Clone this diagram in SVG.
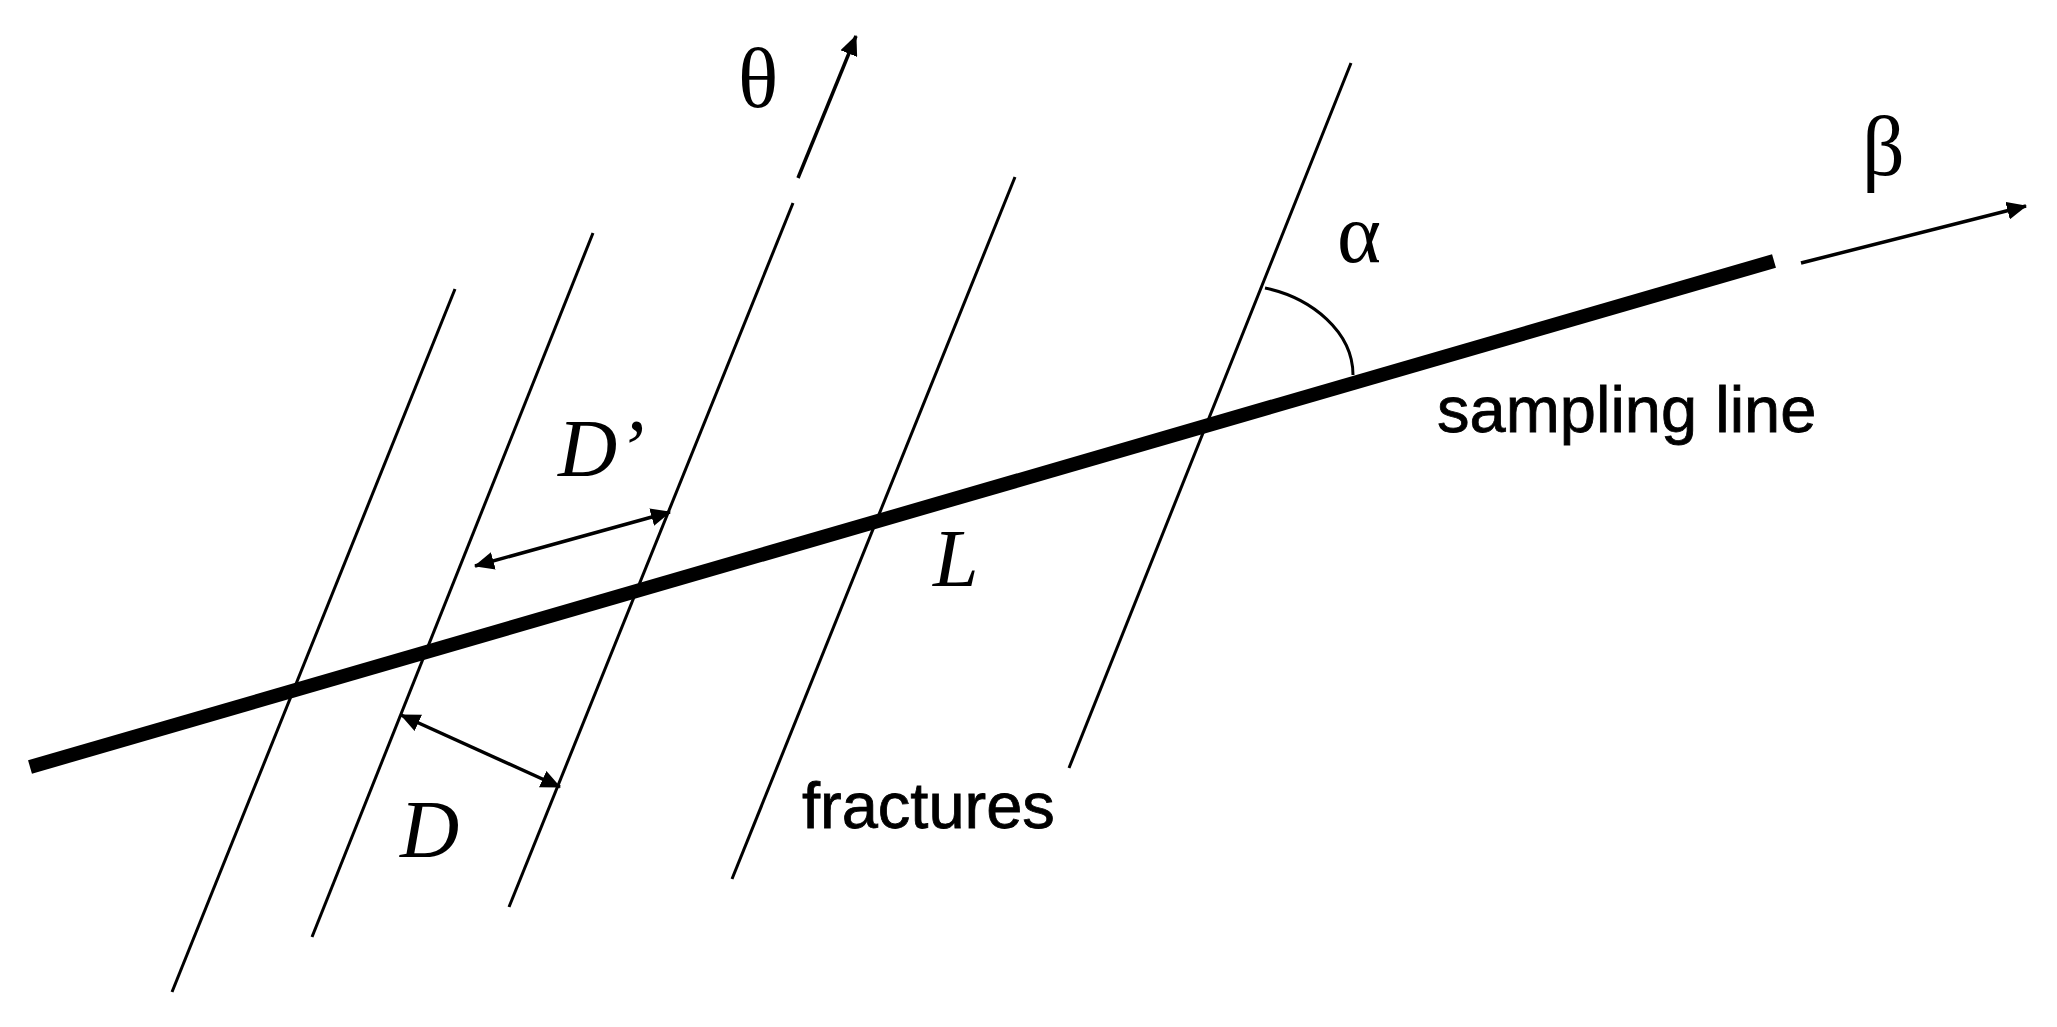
<svg xmlns="http://www.w3.org/2000/svg" width="2057" height="1027" viewBox="0 0 2057 1027">
<style>
.f{stroke:#000;stroke-width:3;fill:none}
.a{stroke:#000;stroke-width:3.5;fill:none}
.s{font-family:"Liberation Sans",Arial,sans-serif;font-size:65px;fill:#000;stroke:#000;stroke-width:.8}
.i{font-family:"Liberation Serif","Times New Roman",serif;font-style:italic;font-size:82px;fill:#000}
.g{font-family:"Liberation Serif","DejaVu Serif",serif;font-size:84px;fill:#000}
</style>
<defs>
<marker id="h" markerUnits="userSpaceOnUse" markerWidth="20" markerHeight="18" refX="19" refY="9" orient="auto-start-reverse"><path d="M0 0L20 9L0 18Z" fill="#000"/></marker>
</defs>
<rect width="2057" height="1027" fill="#fff"/>
<g id="connectors">
<line class="f" x1="172" y1="992" x2="455" y2="289"/>
<line class="f" x1="312" y1="937" x2="593" y2="233"/>
<line class="f" x1="509" y1="907" x2="793" y2="203"/>
<line class="f" x1="732" y1="879" x2="1015" y2="177"/>
<line class="f" x1="1069" y1="768" x2="1351" y2="63"/>
<line x1="30" y1="767" x2="1774" y2="261" stroke="#000" stroke-width="14"/>
<line class="a" x1="798" y1="178" x2="856" y2="36" marker-end="url(#h)"/>
<line class="a" x1="1801" y1="263" x2="2026" y2="206" marker-end="url(#h)"/>
<line class="a" x1="475" y1="566" x2="670" y2="512" marker-start="url(#h)" marker-end="url(#h)"/>
<line class="a" x1="401" y1="715" x2="560" y2="787" marker-start="url(#h)" marker-end="url(#h)"/>
<path class="f" d="M1265 288C1312 298 1353 332 1353 375"/>
</g>
<g id="label-theta"><text class="g" x="738" y="107">θ</text></g>
<g id="label-beta"><text class="g" x="1862" y="175">β</text></g>
<g id="label-alpha"><text class="g" x="1337" y="262">α</text></g>
<g id="label-sampling"><text class="s" x="1437" y="432">sampling line</text></g>
<g id="label-dprime"><text class="i" x="558" y="476">D’</text></g>
<g id="label-l"><text class="i" x="933" y="586">L</text></g>
<g id="label-d"><text class="i" x="400" y="857">D</text></g>
<g id="label-fractures"><text class="s" x="802" y="828">fractures</text></g>
</svg>
